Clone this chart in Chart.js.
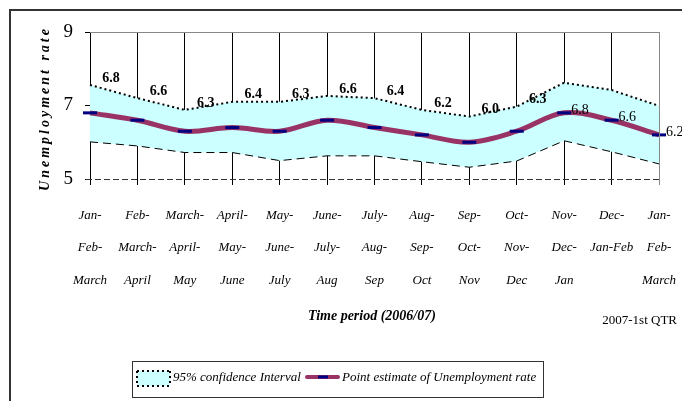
<!DOCTYPE html>
<html>
<head>
<meta charset="utf-8">
<script src="https://cdn.jsdelivr.net/npm/chart.js@4"></script>
<style>
  html, body { margin: 0; padding: 0; background: #fff; }
</style>
</head>
<body>
<canvas id="myChart" width="682" height="401"></canvas>
<script>
// 3ヶ月移動期間
const periods = [
  ['Jan-', 'Feb-', 'March'],
  ['Feb-', 'March-', 'April'],
  ['March-', 'April-', 'May'],
  ['April-', 'May-', 'June'],
  ['May-', 'June-', 'July'],
  ['June-', 'July-', 'Aug'],
  ['July-', 'Aug-', 'Sep'],
  ['Aug-', 'Sep-', 'Oct'],
  ['Sep-', 'Oct-', 'Nov'],
  ['Oct-', 'Nov-', 'Dec'],
  ['Nov-', 'Dec-', 'Jan'],
  ['Dec-', 'Jan-Feb'],
  ['Jan-', 'Feb-', 'March']
];
// 失業率の点推定
const estimate = [6.8, 6.6, 6.3, 6.4, 6.3, 6.6, 6.4, 6.2, 6.0, 6.3, 6.8, 6.6, 6.2];
// 95%信頼区間 上限・下限
const upperCI = [7.56, 7.2, 6.88, 7.1, 7.1, 7.26, 7.2, 6.88, 6.7, 6.97, 7.62, 7.42, 6.99];
const lowerCI = [6.01, 5.9, 5.72, 5.72, 5.5, 5.63, 5.63, 5.47, 5.32, 5.49, 6.04, 5.74, 5.41];
const yTicks = [5, 7, 9];

const SERIF = '"Liberation Serif", "DejaVu Serif", serif';

// 外枠・上と右の枠線・下の破線
const framePlugin = {
  id: 'frame',
  beforeDraw(chart) {
    const ctx = chart.ctx;
    ctx.save();
    ctx.fillStyle = '#fff';
    ctx.fillRect(0, 0, chart.width, chart.height);
    ctx.strokeStyle = '#333';
    ctx.lineWidth = 2;
    ctx.beginPath();
    ctx.moveTo(10, chart.height + 2);
    ctx.lineTo(10, 10);
    ctx.lineTo(chart.width + 2, 10);
    ctx.stroke();
    ctx.restore();
  },
  afterDraw(chart) {
    const ctx = chart.ctx;
    const a = chart.chartArea;
    ctx.save();
    ctx.strokeStyle = '#888';
    ctx.lineWidth = 1;
    ctx.beginPath();
    ctx.moveTo(a.left, a.top + 0.5);
    ctx.lineTo(a.right + 0.5, a.top + 0.5);
    ctx.lineTo(a.right + 0.5, a.bottom);
    ctx.stroke();
    ctx.strokeStyle = '#333';
    ctx.setLineDash([6, 3]);
    ctx.beginPath();
    ctx.moveTo(a.left - 4, a.bottom + 0.5);
    ctx.lineTo(a.right, a.bottom + 0.5);
    ctx.stroke();
    ctx.restore();
  }
};

// 数値ラベル、軸タイトル、凡例
const textPlugin = {
  id: 'texts',
  afterDatasetsDraw(chart) {
    const ctx = chart.ctx;
    const ys = chart.scales.y;
    const meta = chart.getDatasetMeta(2);
    ctx.save();
    ctx.fillStyle = '#000';
    ctx.textBaseline = 'middle';
    estimate.forEach((v, i) => {
      const p = meta.data[i];
      if (i < 10) {
        ctx.font = 'bold 14px ' + SERIF;
        ctx.textAlign = 'center';
        ctx.fillText(v.toFixed(1), p.x + 21, ys.getPixelForValue(upperCI[i]) - 7);
      } else {
        ctx.font = '14px ' + SERIF;
        ctx.textAlign = 'left';
        ctx.fillText(v.toFixed(1), p.x + 7, p.y - 3);
      }
    });
    ctx.restore();
  },
  afterDraw(chart) {
    const ctx = chart.ctx;
    const a = chart.chartArea;
    ctx.save();
    ctx.fillStyle = '#000';
    ctx.textBaseline = 'middle';

    // 縦軸タイトル
    ctx.save();
    ctx.translate(45, (a.top + a.bottom) / 2 + 3);
    ctx.rotate(-Math.PI / 2);
    ctx.font = 'italic bold 14px ' + SERIF;
    ctx.letterSpacing = '3px';
    ctx.textAlign = 'center';
    ctx.fillText('Unemployment rate', 0, 0);
    ctx.restore();

    // 横軸タイトル
    ctx.font = 'italic bold 14px ' + SERIF;
    ctx.textAlign = 'center';
    ctx.fillText('Time period (2006/07)', 372, 316);
    ctx.font = '13px ' + SERIF;
    ctx.textAlign = 'right';
    ctx.fillText('2007-1st QTR', 677, 321);

    // 凡例
    const ds = chart.data.datasets;
    ctx.strokeStyle = '#333';
    ctx.lineWidth = 1;
    ctx.strokeRect(132.5, 361.5, 411, 36);
    ctx.fillStyle = '#ccffff';
    ctx.fillRect(137, 371, 33, 15);
    ctx.strokeStyle = '#000';
    ctx.lineWidth = 2;
    ctx.setLineDash([2, 3]);
    ctx.beginPath();
    ctx.moveTo(137, 371); ctx.lineTo(170, 371);
    ctx.moveTo(137, 386); ctx.lineTo(170, 386);
    ctx.moveTo(137, 371); ctx.lineTo(137, 386);
    ctx.moveTo(170, 371); ctx.lineTo(170, 386);
    ctx.stroke();
    ctx.setLineDash([]);
    ctx.fillStyle = '#000';
    ctx.font = 'italic 13px ' + SERIF;
    ctx.textAlign = 'left';
    ctx.fillText(ds[0].label, 173, 378);

    ctx.strokeStyle = '#993366';
    ctx.lineWidth = 4;
    ctx.lineCap = 'round';
    ctx.beginPath();
    ctx.moveTo(307, 377); ctx.lineTo(338, 377);
    ctx.stroke();
    ctx.strokeStyle = '#000080';
    ctx.lineWidth = 3;
    ctx.lineCap = 'butt';
    ctx.beginPath();
    ctx.moveTo(318, 377); ctx.lineTo(328, 377);
    ctx.stroke();
    ctx.fillText(ds[2].label, 342, 378);
    ctx.restore();
  }
};

const ctx = document.getElementById('myChart');
const myChart = new Chart(ctx, {
  type: 'line',
  data: {
    labels: periods,
    datasets: [
      {
        label: '95% confidence Interval',
        data: upperCI,
        order: 2,
        borderColor: '#000',
        borderWidth: 2,
        borderDash: [2, 3],
        backgroundColor: '#ccffff',
        fill: '+1',
        pointRadius: 0,
        tension: 0
      },
      {
        label: 'lower',
        data: lowerCI,
        order: 3,
        borderColor: '#000',
        borderWidth: 1,
        borderDash: [8, 5],
        fill: false,
        pointRadius: 0,
        tension: 0
      },
      {
        label: 'Point estimate of Unemployment rate',
        data: estimate,
        order: 1,
        borderColor: '#993366',
        borderWidth: 5,
        fill: false,
        tension: 0.35,
        pointStyle: 'line',
        pointRadius: 7,
        pointBorderColor: '#000080',
        pointBorderWidth: 3
      }
    ]
  },
  options: {
    responsive: false,
    animation: false,
    layout: { padding: { top: 32, right: 23, left: 0, bottom: 0 } },
    plugins: {
      legend: { display: false },
      tooltip: { enabled: false },
      filler: { drawTime: 'beforeDatasetsDraw' }
    },
    scales: {
      x: {
        grid: {
          color: (c) => c.index === periods.length - 1 ? '#888' : '#000',
          lineWidth: 1,
          tickLength: 6
        },
        border: { display: false },
        ticks: {
          color: '#000',
          maxRotation: 0,
          autoSkip: false,
          padding: 14,
          font: { family: SERIF, style: 'italic', size: 13, lineHeight: 2.5 }
        },
        afterFit: (s) => {
          s.height = 401 - 179;
          s.paddingLeft = 0;
          s.paddingRight = 0;
        }
      },
      y: {
        min: 5,
        max: 9,
        afterBuildTicks: (s) => { s.ticks = yTicks.map(v => ({ value: v })); },
        grid: { drawOnChartArea: false, color: '#000', tickLength: 5 },
        border: { color: '#000' },
        ticks: {
          color: '#000',
          padding: 12,
          font: { family: SERIF, size: 19 }
        },
        afterFit: (s) => { s.width = 90; }
      }
    }
  },
  plugins: [framePlugin, textPlugin]
});
</script>
</body>
</html>
